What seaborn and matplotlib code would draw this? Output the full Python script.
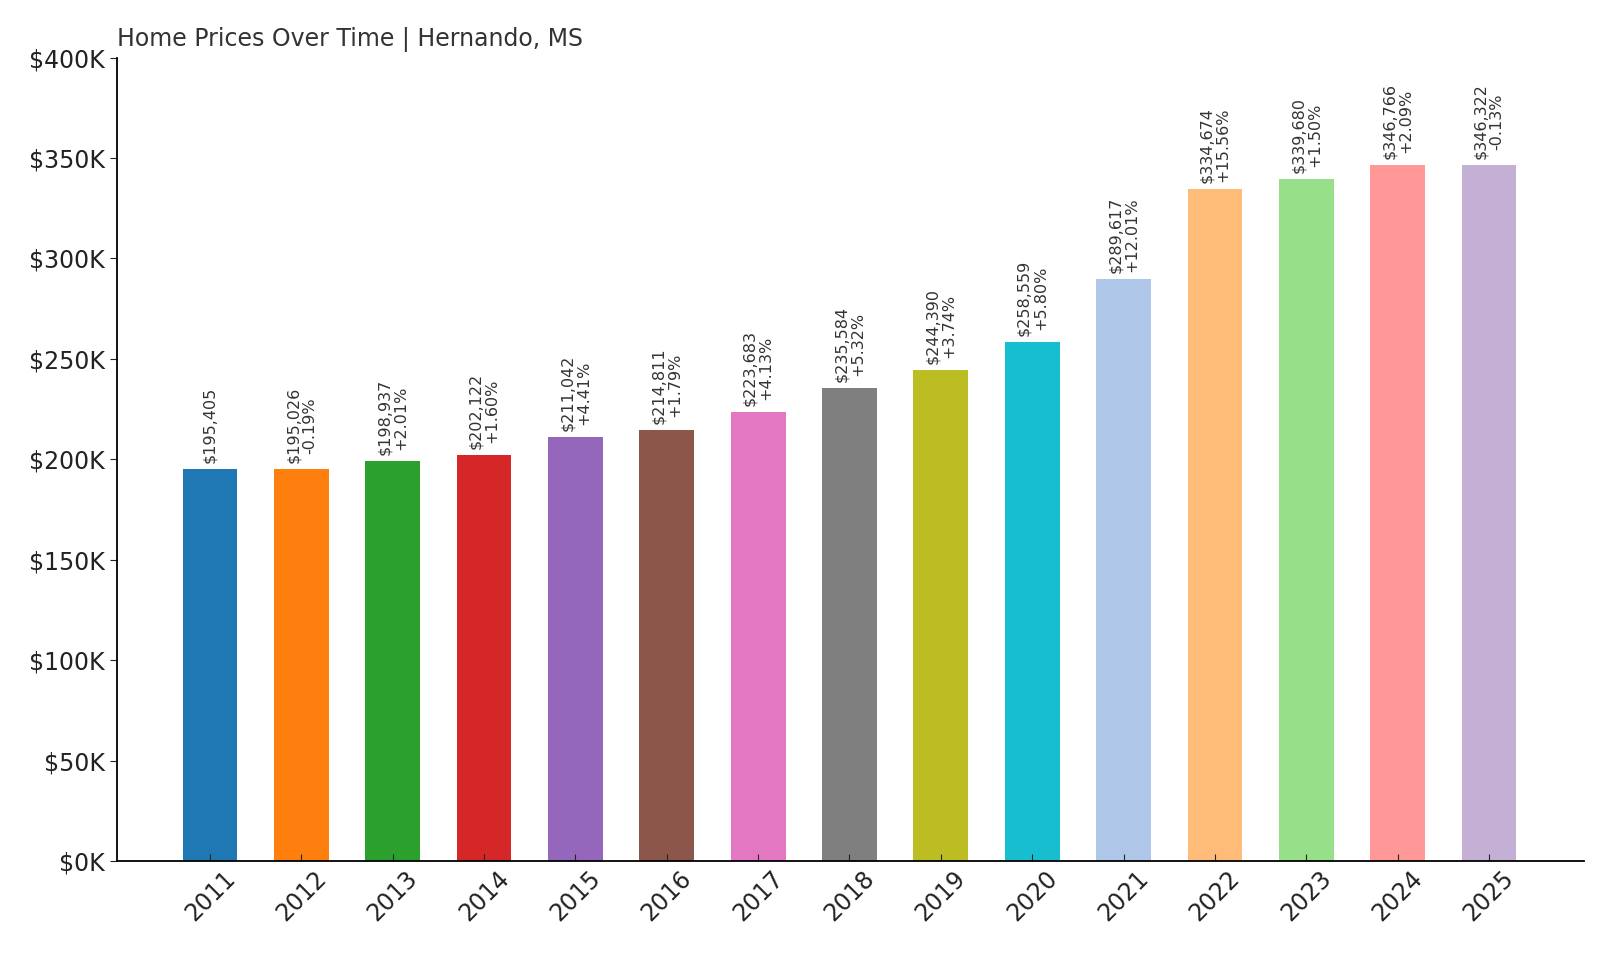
import matplotlib
matplotlib.use("Agg")
import matplotlib.pyplot as plt
import seaborn as sns
import pandas as pd

# data
years = [str(y) for y in range(2011, 2026)]
prices = [195405, 195026, 198937, 202122, 211042, 214811, 223683, 235584,
          244390, 258559, 289617, 334674, 339680, 346766, 346322]
changes = [None, -0.19, 2.01, 1.60, 4.41, 1.79, 4.13, 5.32,
           3.74, 5.80, 12.01, 15.56, 1.50, 2.09, -0.13]
colors = ["#1f77b4", "#ff7f0e", "#2ca02c", "#d62728", "#9467bd", "#8c564b",
          "#e377c2", "#7f7f7f", "#bcbd22", "#17becf", "#aec7e8", "#ffbb78",
          "#98df8a", "#ff9896", "#c5b0d5"]

df = pd.DataFrame({"year": years, "price": prices})

fig = plt.figure(figsize=(16, 9.6), dpi=100)
ax = fig.add_axes([0.073, 0.103, 0.917, 0.837])
sns.barplot(data=df, x="year", y="price", hue="year", palette=colors,
            width=0.6, legend=False, ax=ax, saturation=1)

for i, (p, c) in enumerate(zip(prices, changes)):
    txt = f"${p:,}" if c is None else f"${p:,}\n{c:+.2f}%"
    ax.text(i, p + 3000, txt, rotation=90, ha="center", va="bottom",
            fontsize=11.5, color="#333333", linespacing=1.1)

ax.set_ylim(0, 400000)
ax.set_yticks(range(0, 400001, 50000))
ax.set_yticklabels([f"${v // 1000}K" for v in range(0, 400001, 50000)])
ax.set_xlim(-1.02, 15.04)
ax.set_xlabel("")
ax.set_ylabel("")
ax.tick_params(axis="y", labelsize=17, direction="out", length=5, colors="#222222")
ax.tick_params(axis="x", labelsize=17, direction="in", length=5, rotation=45, colors="#222222")
for lbl in ax.get_xticklabels():
    lbl.set_ha("center")
for s in ["top", "right"]:
    ax.spines[s].set_visible(False)
ax.spines["left"].set_linewidth(1.3)
ax.spines["bottom"].set_linewidth(1.3)
ax.set_title("Home Prices Over Time | Hernando, MS", loc="left", fontsize=17,
             color="#333333", pad=8)

fig.savefig("out.png", dpi=100)
